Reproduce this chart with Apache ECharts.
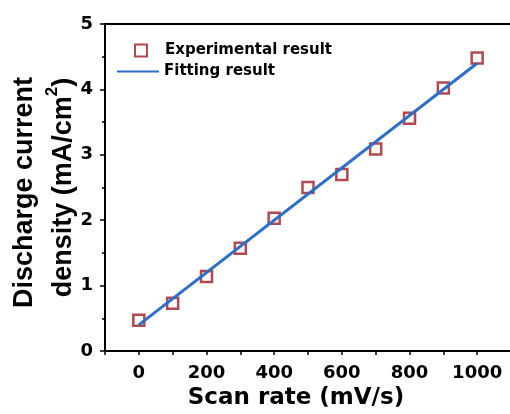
<!DOCTYPE html>
<html>
<head>
<meta charset="utf-8">
<script src="https://cdn.jsdelivr.net/npm/echarts@6/dist/echarts.min.js"></script>
<style>html,body{margin:0;padding:0;background:#fff}#c{width:510px;height:414px}</style>
</head>
<body>
<div id="c"></div>
<script>
var scanRates = [0, 100, 200, 300, 400, 500, 600, 700, 800, 900, 1000];
var experimental = [0.47, 0.73, 1.14, 1.57, 2.03, 2.50, 2.70, 3.09, 3.56, 4.02, 4.48];
var fitX = [0, 1000];
var fitY = [0.40, 4.40];
var xTickLabels = ['0', '200', '400', '600', '800', '1000'];
var yTickLabels = ['0', '1', '2', '3', '4', '5'];

var WIDE = 'DejaVu Sans, sans-serif';
var ARIAL = 'Liberation Sans, Arial, sans-serif';
var chart = echarts.init(document.getElementById('c'));
chart.setOption({
  animation: false,
  backgroundColor: '#fff',
  grid: { left: 105, top: 24, right: -1, bottom: 63, outerBoundsMode: 'none', containLabel: false,
          show: true, borderColor: '#000', borderWidth: 2, backgroundColor: 'transparent' },
  legend: [
    { data: ['Experimental result'], left: 129, top: 38, itemWidth: 12, itemHeight: 12, orient: 'vertical',
      textStyle: { fontFamily: WIDE, fontWeight: 'bold', fontSize: 15, color: '#000', padding: [0, 0, 0, 13] } },
    { data: [{ name: 'Fitting result', itemStyle: { color: 'rgba(0,0,0,0)', borderWidth: 0, opacity: 0 } }],
      left: 111, top: 59, itemWidth: 42, itemHeight: 14, orient: 'vertical',
      textStyle: { fontFamily: WIDE, fontWeight: 'bold', fontSize: 15, color: '#000' } }
  ],
  xAxis: {
    type: 'value', min: -100, max: 1100, interval: 100,
    name: 'Scan rate (mV/s)', nameLocation: 'middle', nameGap: 36, nameMoveOverlap: false,
    nameTextStyle: { fontFamily: WIDE, fontWeight: 'bold', fontSize: 23, color: '#000', padding: [0, 24, 0, 0] },
    axisLine: { lineStyle: { color: '#000', width: 2 } },
    axisTick: { inside: false, length: 4, lineStyle: { color: '#000', width: 1.5 } },
    axisLabel: { margin: 13, fontFamily: WIDE, fontWeight: 'bold', fontSize: 18, color: '#000',
      formatter: function (v) { var s = String(v); return xTickLabels.indexOf(s) >= 0 ? s : ''; } },
    splitLine: { show: false }
  },
  yAxis: {
    type: 'value', min: 0, max: 5, interval: 1,
    name: '{a|Discharge current}\n{b|density (mA/cm}{s|2}{b|)}', nameLocation: 'middle', nameGap: 22, nameMoveOverlap: false,
    nameTextStyle: {
      fontFamily: ARIAL, fontWeight: 'bold', fontSize: 27, color: '#000', lineHeight: 39,
      rich: {
        a: { fontFamily: ARIAL, fontWeight: 'bold', fontSize: 27, color: '#000', lineHeight: 39, padding: [0, 10, 0, 0] },
        b: { fontFamily: ARIAL, fontWeight: 'bold', fontSize: 27, color: '#000', lineHeight: 39 },
        s: { fontFamily: ARIAL, fontWeight: 'bold', fontSize: 17, color: '#000', lineHeight: 39, verticalAlign: 'top', padding: [0, 0, 10, 0] }
      }
    },
    axisLine: { onZero: false, lineStyle: { color: '#000', width: 2 } },
    axisTick: { inside: false, length: 5, lineStyle: { color: '#000', width: 1.5 } },
    minorTick: { show: true, splitNumber: 2, length: 3, lineStyle: { color: '#000', width: 1.5 } },
    axisLabel: { margin: 12, fontFamily: WIDE, fontWeight: 'bold', fontSize: 18, color: '#000',
      formatter: function (v) { var s = String(v); return yTickLabels.indexOf(s) >= 0 ? s : ''; } },
    splitLine: { show: false }
  },
  series: [
    { name: 'Experimental result', type: 'scatter', symbol: 'rect', symbolSize: 11, z: 2,
      itemStyle: { color: 'rgba(255,255,255,0)', borderColor: '#a01c24', borderWidth: 2.5 },
      data: scanRates.map(function (x, i) { return [x, experimental[i]]; }) },
    { name: 'Fitting result', type: 'line', symbol: 'none', z: 3,
      lineStyle: { color: '#2d6fc6', width: 3 }, itemStyle: { color: '#2d6fc6' },
      data: fitX.map(function (x, i) { return [x, fitY[i]]; }) }
  ]
});
</script>
</body>
</html>
